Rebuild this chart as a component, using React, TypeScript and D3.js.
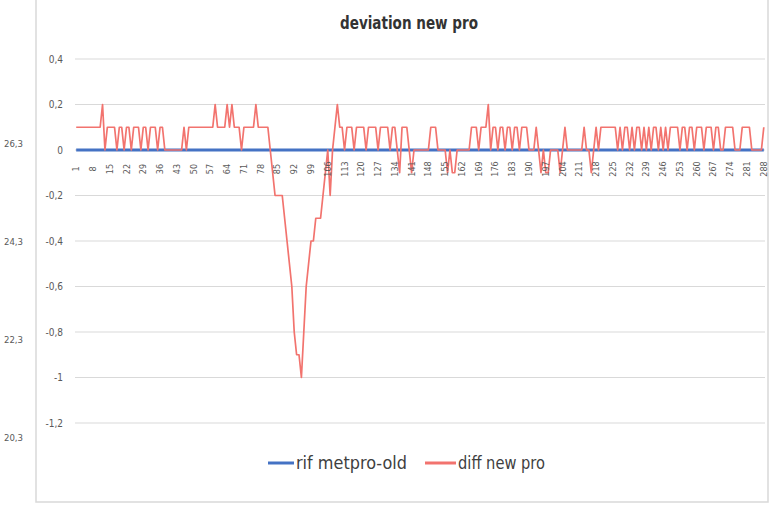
import React, { useRef, useEffect } from 'react';
import * as d3 from 'd3';

// valori (un punto per campione, 1..288)
const diffNewPro: number[] = [
  0.1, 0.1, 0.1, 0.1, 0.1, 0.1, 0.1, 0.1, 0.1, 0.1,
  0.1, 0.2, 0, 0.1, 0.1, 0.1, 0.1, 0, 0.1, 0.1,
  0, 0.1, 0.1, 0, 0.1, 0.1, 0.1, 0, 0.1, 0.1,
  0, 0.1, 0.1, 0.1, 0, 0.1, 0.1, 0, 0, 0,
  0, 0, 0, 0, 0, 0.1, 0, 0.1, 0.1, 0.1,
  0.1, 0.1, 0.1, 0.1, 0.1, 0.1, 0.1, 0.1, 0.2, 0.1,
  0.1, 0.1, 0.1, 0.2, 0.1, 0.2, 0.1, 0.1, 0.1, 0,
  0.1, 0.1, 0.1, 0.1, 0.1, 0.2, 0.1, 0.1, 0.1, 0.1,
  0.1, 0, -0.1, -0.2, -0.2, -0.2, -0.2, -0.3, -0.4, -0.5,
  -0.6, -0.8, -0.9, -0.9, -1, -0.8, -0.6, -0.5, -0.4, -0.4,
  -0.3, -0.3, -0.3, -0.2, -0.1, 0, -0.2, 0, 0.1, 0.2,
  0.1, 0.1, 0, 0.1, 0.1, 0.1, 0, 0.1, 0.1, 0.1,
  0.1, 0, 0.1, 0.1, 0.1, 0.1, 0, 0.1, 0.1, 0.1,
  0.1, 0, 0.1, 0.1, 0, -0.1, 0.1, 0.1, 0.1, 0,
  -0.1, 0, 0, 0, 0, 0, 0, 0, 0.1, 0.1,
  0.1, 0, 0, 0, 0, -0.1, 0, -0.1, -0.1, 0,
  0, 0, 0, 0, 0, 0.1, 0.1, 0.1, 0, 0.1,
  0.1, 0.1, 0.2, 0, 0.1, 0.1, 0, 0.1, 0.1, 0,
  0.1, 0.1, 0, 0.1, 0.1, 0, 0.1, 0.1, 0.1, 0,
  0, 0, 0.1, 0, -0.1, 0, -0.1, -0.1, 0, 0,
  0, 0, -0.1, 0, 0.1, 0, 0, 0, 0, 0,
  0, 0, 0.1, 0, 0, -0.1, 0, 0.1, 0, 0.1,
  0.1, 0.1, 0.1, 0.1, 0.1, 0.1, 0, 0.1, 0, 0.1,
  0.1, 0, 0.1, 0, 0.1, 0.1, 0, 0.1, 0, 0.1,
  0, 0.1, 0.1, 0, 0.1, 0, 0.1, 0, 0.1, 0.1,
  0.1, 0.1, 0, 0.1, 0.1, 0, 0.1, 0.1, 0, 0.1,
  0.1, 0.1, 0, 0.1, 0.1, 0.1, 0, 0.1, 0.1, 0,
  0, 0.1, 0.1, 0.1, 0.1, 0, 0, 0, 0.1, 0.1,
  0.1, 0.1, 0, 0, 0, 0, 0, 0.1,
];

// serie di riferimento: sempre zero
const rifMetproOld: number[] = diffNewPro.map(() => 0);

const categories: number[] = diffNewPro.map((_, i) => i + 1);
const yTicks: number[] = [0.4, 0.2, 0, -0.2, -0.4, -0.6, -0.8, -1, -1.2];
const y2Ticks: number[] = [26.3, 24.3, 22.3, 20.3];

const seriesNames = ['rif metpro-old', 'diff new pro'];
const seriesColors = ['#4472C4', '#F2736E'];

const FONT = '"Liberation Sans Narrow", "DejaVu Sans Condensed", sans-serif';

const fmt = (v: number) => String(+v.toFixed(1)).replace('.', ',');

const App: React.FC = () => {
  const svgRef = useRef<SVGSVGElement>(null);

  useEffect(() => {
    const svg = d3.select(svgRef.current);
    svg.selectAll('*').remove();

    const width = 775;
    const height = 505;
    svg.attr('width', width).attr('height', height);

    svg.append('rect').attr('width', width).attr('height', height).attr('fill', '#fff');

    // bordo dell'area grafico
    svg.append('rect')
      .attr('x', 36).attr('y', -5).attr('width', 732).attr('height', 507)
      .attr('fill', 'none').attr('stroke', '#D9D9D9').attr('stroke-width', 1.5);

    const x = d3.scaleBand<number>().domain(categories).range([75, 765]);
    const cx = (c: number) => (x(c) ?? 0) + x.bandwidth() / 2;
    const y = d3.scaleLinear().domain([-1.2, 0.4]).range([423, 59]);
    const y2 = d3.scaleLinear().domain([20.3, 26.3]).range([437, 143]);

    // titolo
    svg.append('text')
      .attr('x', 409).attr('y', 29)
      .attr('text-anchor', 'middle')
      .attr('font-family', FONT).attr('font-size', 18).attr('font-weight', 'bold')
      .attr('fill', '#333')
      .attr('textLength', 138).attr('lengthAdjust', 'spacingAndGlyphs')
      .text('deviation new pro');

    // griglia + etichette asse y
    yTicks.forEach(t => {
      svg.append('line')
        .attr('x1', 75).attr('x2', 765)
        .attr('y1', y(t)).attr('y2', y(t))
        .attr('stroke', '#D9D9D9').attr('stroke-width', 1);
      svg.append('text')
        .attr('x', 63).attr('y', y(t) + 3.5)
        .attr('text-anchor', 'end')
        .attr('font-family', FONT).attr('font-size', 10)
        .attr('fill', '#595959')
        .text(fmt(t));
    });

    // asse secondario a sinistra
    y2Ticks.forEach(t => {
      svg.append('text')
        .attr('x', 4).attr('y', y2(t) + 3.5)
        .attr('font-family', FONT).attr('font-size', 9.5)
        .attr('fill', '#595959')
        .text(fmt(t));
    });

    // serie
    const line = d3.line<number>()
      .x((_, i) => cx(categories[i]))
      .y(d => y(d));

    svg.append('path')
      .attr('d', line(rifMetproOld) || '')
      .attr('fill', 'none')
      .attr('stroke', seriesColors[0])
      .attr('stroke-width', 3);

    svg.append('path')
      .attr('d', line(diffNewPro) || '')
      .attr('fill', 'none')
      .attr('stroke', seriesColors[1])
      .attr('stroke-width', 1.7)
      .attr('stroke-linejoin', 'round');

    // etichette categorie, ruotate, ogni 7
    categories.filter((_, i) => i % 7 === 0).forEach(c => {
      svg.append('text')
        .attr('transform', `translate(${cx(c) + 3},169) rotate(-90)`)
        .attr('text-anchor', 'middle')
        .attr('font-family', FONT).attr('font-size', 9)
        .attr('fill', '#595959')
        .text(String(c));
    });

    // legenda
    const legendY = 463;
    const legendItems = [
      { x0: 268, x1: 294, tx: 296, w: 111 },
      { x0: 425, x1: 456, tx: 458, w: 87 },
    ];
    legendItems.forEach((it, i) => {
      svg.append('line')
        .attr('x1', it.x0).attr('x2', it.x1)
        .attr('y1', legendY).attr('y2', legendY)
        .attr('stroke', seriesColors[i]).attr('stroke-width', 3);
      svg.append('text')
        .attr('x', it.tx).attr('y', legendY + 6)
        .attr('font-family', FONT).attr('font-size', 18)
        .attr('fill', '#404040')
        .attr('textLength', it.w).attr('lengthAdjust', 'spacingAndGlyphs')
        .text(seriesNames[i]);
    });
  }, []);

  return <svg ref={svgRef} style={{ position: 'absolute', left: 0, top: 0 }} />;
};

export default App;
